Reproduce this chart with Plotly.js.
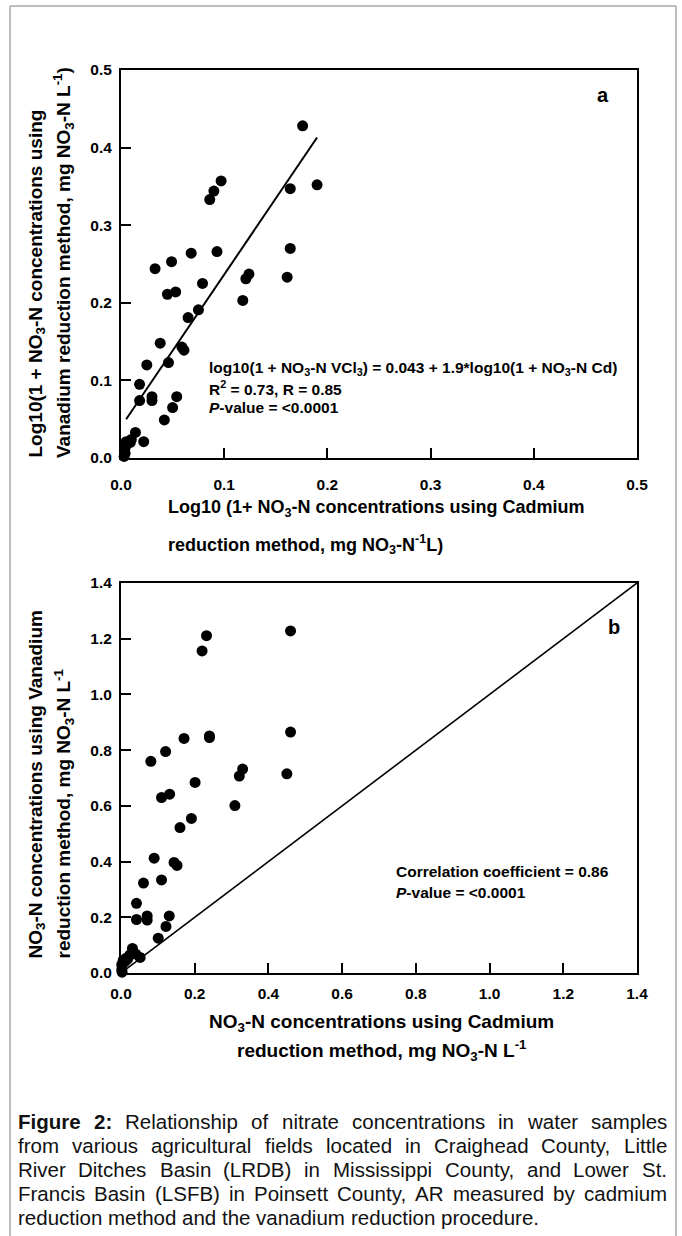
<!DOCTYPE html>
<html><head><meta charset="utf-8">
<script src="https://cdn.plot.ly/plotly-3.0.1.min.js"></script>
<style>html,body{margin:0;padding:0;background:#fff;}#chart{width:682px;height:1236px;}</style>
</head><body><div id="chart"></div>
<script>
// ---------- data ----------
// Panel a: log10(1 + NO3-N) by cadmium (x) vs vanadium (y)
const cdLogA = [0.176,0.190,0.164,0.164,0.161,0.097,0.090,0.086,0.093,0.068,0.079,0.075,0.065,0.124,0.121,0.118,0.059,0.061,0.033,0.049,0.045,0.053,0.038,0.046,0.025,0.018,0.018,0.030,0.030,0.054,0.050,0.042,0.014,0.022,0.005,0.009,0.004,0.004,0.003,0.010];
const vLogA  = [0.428,0.352,0.347,0.270,0.233,0.357,0.344,0.333,0.266,0.264,0.225,0.191,0.181,0.237,0.231,0.203,0.143,0.139,0.244,0.253,0.211,0.214,0.148,0.123,0.120,0.095,0.074,0.079,0.074,0.079,0.065,0.049,0.033,0.021,0.021,0.020,0.013,0.006,0.002,0.024];
const fitX = [0.005, 0.190];
const fitY = [0.050, 0.413];
// Panel b: NO3-N by cadmium (x) vs vanadium (y), mg/L
const cdB = [0.460,0.232,0.220,0.460,0.240,0.240,0.171,0.121,0.081,0.330,0.321,0.450,0.201,0.132,0.110,0.309,0.191,0.160,0.090,0.144,0.152,0.110,0.061,0.042,0.042,0.071,0.071,0.131,0.122,0.101,0.052,0.031,0.031,0.040,0.024,0.014,0.006,0.010,0.002,0.002,0.003,0.018];
const vB  = [1.228,1.211,1.156,0.865,0.851,0.845,0.842,0.795,0.760,0.732,0.707,0.715,0.684,0.642,0.630,0.601,0.555,0.522,0.412,0.397,0.386,0.334,0.323,0.250,0.192,0.205,0.190,0.205,0.167,0.125,0.056,0.088,0.072,0.068,0.065,0.053,0.046,0.040,0.030,0.012,0.003,0.050];
const oneX = [0, 1.4];
const oneY = [0, 1.4];
const ticksA = [0,0.1,0.2,0.3,0.4,0.5];
const ticksB = [0,0.2,0.4,0.6,0.8,1.0,1.2,1.4];
const captionBold = ["Figure","2:"];
const captionLines = [
 "Figure 2: Relationship of nitrate concentrations in water samples",
 "from various agricultural fields located in Craighead County, Little",
 "River Ditches Basin (LRDB) in Mississippi County, and Lower St.",
 "Francis Basin (LSFB) in Poinsett County, AR measured by cadmium",
 "reduction method and the vanadium reduction procedure."
];

// ---------- layout helpers ----------
const W = 682, H = 1236;
const FONT = '"Liberation Sans", Arial, Helvetica, sans-serif';
const X = p => p / W;
const Y = p => 1 - p / H;

function axis(range, vals, dom, anchor, standoff) {
  return {
    range: range, tickmode: 'array', tickvals: vals,
    ticktext: vals.map(v => v.toFixed(1)),
    domain: dom, anchor: anchor,
    ticks: 'inside', ticklen: 10, tickwidth: 2, tickcolor: '#000',
    showline: true, linewidth: 2, linecolor: '#000', mirror: true,
    showgrid: false, zeroline: false, fixedrange: true,
    ticklabelstandoff: standoff,
    tickfont: {family: FONT, size: 15.5, color: '#000', weight: 'bold'}
  };
}

const plotL = 121, plotR = 637;
const aTop = 70, aBot = 458, bTop = 583, bBot = 973;

const traces = [
  {x: cdLogA, y: vLogA, xaxis: 'x', yaxis: 'y', type: 'scatter', mode: 'markers',
   marker: {size: 11, color: '#000'}, cliponaxis: false, hoverinfo: 'skip'},
  {x: fitX, y: fitY, xaxis: 'x', yaxis: 'y', type: 'scatter', mode: 'lines',
   line: {color: '#000', width: 2}, hoverinfo: 'skip'},
  {x: cdB, y: vB, xaxis: 'x2', yaxis: 'y2', type: 'scatter', mode: 'markers',
   marker: {size: 11, color: '#000'}, cliponaxis: false, hoverinfo: 'skip'},
  {x: oneX, y: oneY, xaxis: 'x2', yaxis: 'y2', type: 'scatter', mode: 'lines',
   line: {color: '#000', width: 1.6}, hoverinfo: 'skip'}
];

const tf = (s) => ({family: FONT, size: s, color: '#000', weight: 'bold'});
function ann(text, x, y, xa, ya, size, extra) {
  return Object.assign({text: text, xref: 'paper', yref: 'paper', x: X(x), y: Y(y),
    xanchor: xa, yanchor: ya, showarrow: false, font: tf(size), borderpad: 0}, extra || {});
}

const annotations = [
  // panel a labels
  ann('a', 603, 95, 'center', 'middle', 20),
  ann('log10(1 + NO<sub>3</sub>-N VCl<sub>3</sub>) = 0.043 + 1.9*log10(1 + NO<sub>3</sub>-N Cd)', 208, 368, 'left', 'middle', 15.5),
  ann('R<sup>2</sup> = 0.73, R = 0.85', 208, 388, 'left', 'middle', 15.5),
  ann('<i>P</i>-value = &lt;0.0001', 208, 407, 'left', 'middle', 15.5),
  ann('Log10 (1+ NO<sub>3</sub>-N concentrations using Cadmium', 167, 508, 'left', 'middle', 18),
  ann('reduction method, mg NO<sub>3</sub>-N<sup>-1</sup>L)', 167, 544, 'left', 'middle', 18),
  ann('Log10(1 + NO<sub>3</sub>-N concentrations using', 36.5, 459, 'center', 'bottom', 19, {textangle: -90}),
  ann('Vanadium reduction method, mg NO<sub>3</sub>-N L<sup>-1</sup>)', 63.5, 459, 'center', 'bottom', 19, {textangle: -90}),
  // panel b labels
  ann('b', 614, 627, 'center', 'middle', 20),
  ann('Correlation coefficient = 0.86', 395, 872, 'left', 'middle', 15.5),
  ann('<i>P</i>-value = &lt;0.0001', 395, 892, 'left', 'middle', 15.5),
  ann('NO<sub>3</sub>-N concentrations using Cadmium', 382, 1023, 'center', 'middle', 19),
  ann('reduction method, mg NO<sub>3</sub>-N L<sup>-1</sup>', 382, 1050, 'center', 'middle', 19),
  ann('NO<sub>3</sub>-N concentrations using Vanadium', 36.5, 960, 'center', 'bottom', 19, {textangle: -90}),
  ann('reduction method, mg NO<sub>3</sub>-N L<sup>-1</sup>', 63.5, 960, 'center', 'bottom', 19, {textangle: -90})
];

// caption: justified lines, word by word
const capSize = 20.5, capLeft = 17, capRight = 666;
const capY = [1121, 1145, 1169, 1193, 1217];
const ctx = document.createElement('canvas').getContext('2d');
function wWidth(word, bold) {
  ctx.font = (bold ? 'bold ' : '') + capSize + 'px "Liberation Sans", Arial, sans-serif';
  return ctx.measureText(word).width;
}
captionLines.forEach((line, i) => {
  const words = line.split(' ');
  const isBold = (w, k) => i === 0 && k < captionBold.length && captionBold[k] === w;
  const widths = words.map((w, k) => wWidth(w, isBold(w, k)));
  const total = widths.reduce((a, b) => a + b, 0);
  const last = i === captionLines.length - 1;
  const gap = last ? wWidth(' ', false) : (capRight - capLeft - total) / (words.length - 1);
  let cx = capLeft;
  words.forEach((w, k) => {
    annotations.push({text: w, xref: 'paper', yref: 'paper', x: X(cx), y: Y(capY[i]),
      xanchor: 'left', yanchor: 'middle', showarrow: false, borderpad: 0,
      font: {family: FONT, size: capSize, color: '#111', weight: isBold(w, k) ? 'bold' : 'normal'}});
    cx += widths[k] + gap;
  });
});

const frameColor = '#a8a8a8';
const shapes = [
  {type: 'line', xref: 'paper', yref: 'paper', x0: X(10), x1: X(10), y0: Y(6), y1: -0.01, line: {color: frameColor, width: 1.5}},
  {type: 'line', xref: 'paper', yref: 'paper', x0: X(676), x1: X(676), y0: Y(6), y1: -0.01, line: {color: frameColor, width: 1.5}},
  {type: 'line', xref: 'paper', yref: 'paper', x0: X(10), x1: X(676), y0: Y(6), y1: Y(6), line: {color: frameColor, width: 1.5}}
];

const layout = {
  width: W, height: H, margin: {l: 0, r: 0, t: 0, b: 0},
  paper_bgcolor: '#fff', plot_bgcolor: '#fff', showlegend: false,
  font: {family: FONT, color: '#000'},
  xaxis: axis([0, 0.5], ticksA, [X(plotL), X(plotR)], 'y', 11),
  yaxis: axis([0, 0.5], ticksA, [Y(aBot), Y(aTop)], 'x', 4),
  xaxis2: axis([0, 1.4], ticksB, [X(plotL), X(plotR)], 'y2', 5),
  yaxis2: axis([0, 1.4], ticksB, [Y(bBot), Y(bTop)], 'x2', 4),
  annotations: annotations, shapes: shapes
};

Plotly.newPlot('chart', traces, layout, {displayModeBar: false, staticPlot: true});
</script></body></html>
